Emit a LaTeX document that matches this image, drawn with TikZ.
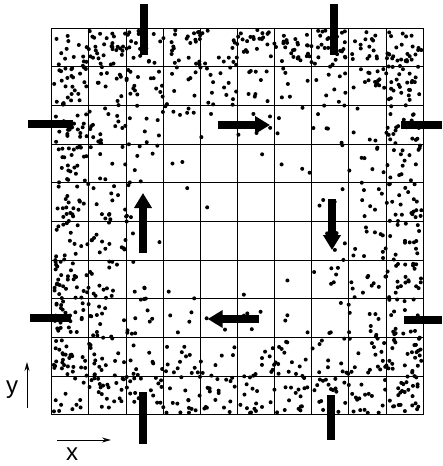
\documentclass[tikz,border=0pt]{standalone}
\usepackage{fontspec}
\setmainfont{Liberation Sans}
\usetikzlibrary{arrows.meta}
\begin{document}
\begin{tikzpicture}[x=1pt,y=-1pt,
  gridline/.style={line width=1pt},
  bar/.style={line width=8pt,line cap=butt},
  flow/.style={line width=7.5pt,-{Triangle[length=15pt,width=17pt]}},
  axisarrow/.style={line width=1pt,-{Stealth[length=9pt,width=5pt]}},
  axislabel/.style={font=\fontsize{24}{24}\selectfont,inner sep=0pt},
  dot/.style={fill=black}]
\useasboundingbox (0,0) rectangle (442,466);
% random dots, denser towards the walls
\pgfmathsetseed{11}
\foreach \i in {1,...,2600}{
  \pgfmathsetmacro{\dotu}{2*rnd-1}
  \pgfmathsetmacro{\dotv}{2*rnd-1}
  \pgfmathsetmacro{\dots}{sqrt(\dotu*\dotu*\dotu*\dotu+\dotv*\dotv*\dotv*\dotv)}
  \pgfmathsetmacro{\dotp}{\dots*sqrt(\dots)}
  \pgfmathsetmacro{\dotr}{rnd}
  \ifdim\dotr pt<\dotp pt
    \fill[dot] (237.5+184*\dotu,221.5+191.5*\dotv) circle[radius=2pt];
  \fi
}
% grid 10 x 10
\foreach \k in {0,...,10}{
  \draw[gridline] (51.7+37.16*\k,28.3) -- (51.7+37.16*\k,414.7);
  \draw[gridline] (51.7,28.3+38.64*\k) -- (423.3,28.3+38.64*\k);
}
% wall bars
\draw[bar] (144.3,4) -- (144.3,55);
\draw[bar] (334.3,4) -- (334.3,55);
\draw[bar] (28,124) -- (73,124);
\draw[bar] (30,318) -- (71,318);
\draw[bar] (401,125) -- (442,125);
\draw[bar] (404,320) -- (442,320);
\draw[bar] (143,392) -- (143,444);
\draw[bar] (331,395) -- (331,440);
% circulation arrows
\draw[flow] (218,125) -- (270,125);
\draw[flow] (332,199) -- (332,250);
\draw[flow] (259,319) -- (207.7,319);
\draw[flow] (143,253) -- (143,193);
% axes
\coordinate (ya) at (27,408);
\coordinate (yb) at (27,362);
\coordinate (xa) at (57,440);
\coordinate (xb) at (111,440);
\draw[axisarrow] (ya) -- (yb);
\draw[axisarrow] (xa) -- (xb);
\node[axislabel] (ylab) at (12,390) {y};
\node[axislabel] (xlab) at (72,454) {x};
\end{tikzpicture}
\end{document}
